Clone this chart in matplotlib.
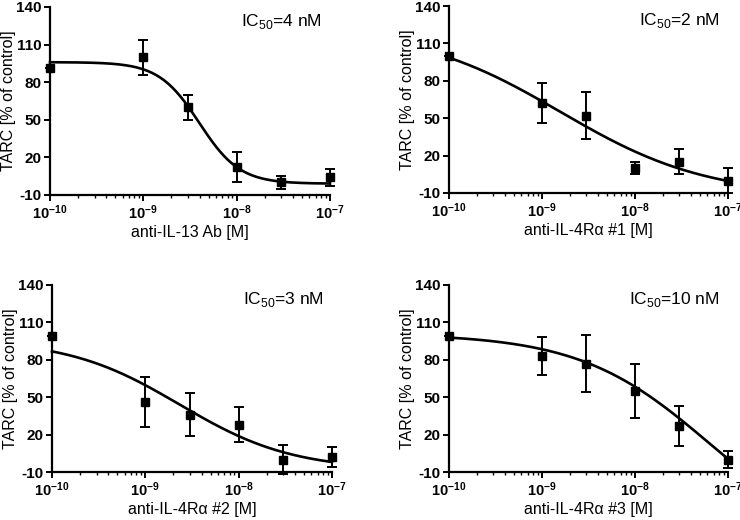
import numpy as np
import matplotlib
matplotlib.use("Agg")
import matplotlib.pyplot as plt
from matplotlib.ticker import LogLocator, NullFormatter

plt.rcParams['font.family'] = ['Liberation Sans', 'DejaVu Sans']
plt.rcParams['mathtext.fontset'] = 'custom'
plt.rcParams['mathtext.rm'] = 'Liberation Sans'
plt.rcParams['mathtext.bf'] = 'Liberation Sans:bold'

# concentrations [M]
conc = [1e-10, 1e-9, 3e-9, 1e-8, 3e-8, 1e-7]

# mean TARC [% of control] and error half-widths
mean_13 = [91, 100, 60, 12, 0, 4]
err_13 = [0, 14, 10, 12, 5, 7]
mean_r1 = [100, 62, 52, 10, 15, 0]
err_r1 = [0, 16, 19, 5, 10, 10]
mean_r2 = [99, 46, 36, 28, 0, 2]
err_r2 = [0, 20, 17, 14, 12, 8]
mean_r3 = [99, 83, 77, 55, 27, 0]
err_r3 = [0, 15, 23, 22, 16, 7]

# fitted curves: top, bottom, log10 centre, hill slope
fit_13 = [96, -1, -8.4, 2.0]
fit_r1 = [123, -13, -8.8, 0.55]
fit_r2 = [96.6, -8.6, -8.63, 0.72]
fit_r3 = [101, -75, -7.2, 0.62]

xlabels = ["anti-IL-13 Ab [M]", "anti-IL-4R\u03b1 #1 [M]",
           "anti-IL-4R\u03b1 #2 [M]", "anti-IL-4R\u03b1 #3 [M]"]
ic50 = ["4", "2", "3", "10"]
yticks = [-10, 20, 50, 80, 110, 140]
xticks = [1e-10, 1e-9, 1e-8, 1e-7]
xticklabels = [r"$\mathbf{10^{-10}}$", r"$\mathbf{10^{-9}}$",
               r"$\mathbf{10^{-8}}$", r"$\mathbf{10^{-7}}$"]

panels = [(mean_13, err_13, fit_13), (mean_r1, err_r1, fit_r1),
          (mean_r2, err_r2, fit_r2), (mean_r3, err_r3, fit_r3)]

# axes boxes in pixels: left, top, right, bottom
boxes = [(50, 7, 330, 195), (449, 6, 728, 193),
         (52, 285, 332, 472), (449, 285, 728, 472)]

W, H = 740, 520
fig = plt.figure(figsize=(7.4, 5.2), dpi=100)

for i, (m, e, f) in enumerate(panels):
    l, t, r, b = boxes[i]
    ax = fig.add_axes([l / W, 1 - b / H, (r - l) / W, (b - t) / H])
    top, bot, c, h = f
    lx = np.linspace(-10, -7, 300)
    ax.plot(10 ** lx, bot + (top - bot) / (1 + 10 ** (h * (lx - c))),
            color='black', lw=1.9, clip_on=False, zorder=3)
    ax.errorbar(conc, m, yerr=e, fmt='s', color='black', ms=6,
                elinewidth=1.4, capsize=3.5, capthick=1.4, clip_on=False, zorder=4)
    ax.set_xscale('log')
    ax.set_xlim(1e-10, 1e-7)
    ax.set_ylim(-10, 140)
    ax.set_xticks(xticks)
    ax.set_xticklabels(xticklabels)
    ax.set_yticks(yticks)
    ax.set_yticklabels([str(v) for v in yticks], fontweight='bold')
    ax.xaxis.set_minor_locator(LogLocator(base=10, subs=np.arange(2, 10)))
    ax.xaxis.set_minor_formatter(NullFormatter())
    for s in ['top', 'right']:
        ax.spines[s].set_visible(False)
    for s in ['left', 'bottom']:
        ax.spines[s].set_linewidth(1.6)
    ax.tick_params(which='major', length=4, width=1.4, labelsize=11, pad=2)
    ax.tick_params(axis='x', which='major', labelsize=10.5, pad=2)
    ax.tick_params(which='minor', length=2.5, width=1.0)
    ax.set_xlabel(xlabels[i], fontsize=11.5, labelpad=2)
    ax.set_ylabel("TARC [% of control]", fontsize=11.5, labelpad=0)
    ax.text(0.97, 0.975, "IC$_{50}$=" + ic50[i] + " nM", transform=ax.transAxes,
            ha='right', va='top', fontsize=12.5)

fig.savefig("out.png", dpi=100)
